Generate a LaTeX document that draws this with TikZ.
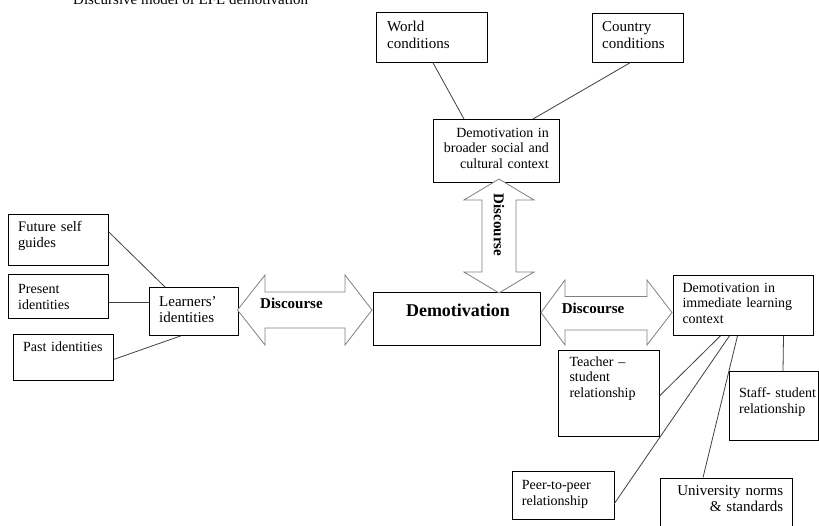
\documentclass[tikz,border=0pt]{standalone}
\usepackage{fontspec}
\setmainfont{Liberation Serif}
\begin{document}
\begin{tikzpicture}[x=1pt,y=-1pt,
  box/.style={draw=black, line width=0.8pt, inner sep=0pt, anchor=north west},
  conn/.style={draw=black!75, line width=0.8pt},
  arr/.style={draw=black!50, line width=0.8pt, fill=white, line join=miter},
  tl/.style={inner sep=0pt, anchor=base west, align=left, text width=5cm},
  tr/.style={inner sep=0pt, anchor=base east, align=right, text width=5cm},
  fa/.style={font=\fontsize{14}{15.7}\selectfont},
  fb/.style={font=\fontsize{15}{17}\selectfont},
  bd/.style={font=\fontsize{15}{17}\selectfont\bfseries}]
\useasboundingbox (0,0) rectangle (819,525);
\clip (0,0) rectangle (819,525);

% title (cut off at top, as in the reference)
\node[inner sep=0pt, anchor=base west, fb] (title) at (73,4.5) {Discursive model of EFL demotivation};

% boxes
\node[box, minimum width=111pt, minimum height=50pt] (world) at (376,12) {};
\node[box, minimum width=91pt, minimum height=49pt] (country) at (592,13) {};
\node[box, minimum width=126pt, minimum height=63pt] (broad) at (433,119) {};
\node[box, minimum width=100pt, minimum height=51pt] (future) at (8,214) {};
\node[box, minimum width=100pt, minimum height=44pt] (present) at (8,274) {};
\node[box, minimum width=100pt, minimum height=46pt] (past) at (13,334) {};
\node[box, minimum width=89pt, minimum height=48pt] (learn) at (149,287) {};
\node[box, minimum width=167pt, minimum height=53pt] (demot) at (373,292) {};
\node[box, minimum width=140pt, minimum height=60.5pt] (immed) at (672.5,274.5) {};
\node[box, minimum width=101pt, minimum height=85.5pt] (teacher) at (558,350) {};
\node[box, minimum width=89pt, minimum height=69pt] (staff) at (729,371) {};
\node[box, minimum width=102pt, minimum height=47.5pt] (peer) at (511.5,471) {};
\node[box, minimum width=132pt, minimum height=60pt] (univ) at (660,477.5) {};

% texts
\node[tl, font=\fontsize{15}{17.3}\selectfont] (tworld) at (387,31.5) {World\\conditions};
\node[tl, font=\fontsize{15}{17.3}\selectfont] (tcountry) at (602,31.5) {Country\\conditions};
\node[tr, font=\fontsize{14}{15.4}\selectfont] (tbroad) at (549,137.3) {Demotivation in\\broader social and\\cultural context};
\node[tl, font=\fontsize{14.5}{16}\selectfont] (tfuture) at (18,231.7) {Future self\\guides};
\node[tl, fa] (tpresent) at (18,293.3) {Present\\identities};
\node[tl, fa] (tpast) at (23,351.7) {Past identities};
\node[tl, font=\fontsize{15}{16.3}\selectfont] (tlearn) at (159,306) {Learners’\\identities};
\node[inner sep=0pt, anchor=base, font=\fontsize{18}{20}\selectfont\bfseries] (tdemot) at (458,316) {Demotivation};
\node[tl, font=\fontsize{14}{15.5}\selectfont] (timmed) at (682.3,292.3) {Demotivation in\\immediate learning\\context};
\node[tl, fa] (tteacher) at (569.3,366) {Teacher –\\student\\relationship};
\node[tl, font=\fontsize{14}{16}\selectfont] (tstaff) at (739,397.3) {Staff- student\\relationship};
\node[tl, font=\fontsize{14}{16}\selectfont] (tpeer) at (521.7,489) {Peer-to-peer\\relationship};
\node[tr, font=\fontsize{15}{16}\selectfont] (tuniv) at (783.3,495.7) {University norms\\\& standards};

% connectors
\draw[conn] ([xshift=57pt]world.south west) -- ([xshift=31pt]broad.north west);
\draw[conn] ([xshift=38pt]country.south west) -- ([xshift=100pt]broad.north west);
\draw[conn] ([yshift=-18pt]future.north east) -- ([xshift=16pt]learn.north west);
\draw[conn] ([yshift=-6pt]present.east) -- ([yshift=9pt]learn.west);
\draw[conn] ([yshift=-2pt]past.east) -- ([xshift=32pt]learn.south west);
\draw[conn] ([xshift=48pt]immed.south west) -- ([yshift=-2.5pt]teacher.east);
\draw[conn] ([xshift=57pt]immed.south west) -- ([yshift=-8.5pt]peer.east);
\draw[conn] ([xshift=65pt]immed.south west) -- ([xshift=43pt]univ.north west);
\draw[conn] ([xshift=111pt]immed.south west) -- ([xshift=54pt]staff.north west);

% double block arrows
\draw[arr] (237.5,310) -- (265,275) -- (265,292) -- (345,292) -- (345,275) -- (372,310)
  -- (345,345) -- (345,328) -- (265,328) -- (265,345) -- cycle;
\draw[arr] (541,312.5) -- (565,280) -- (565,296.5) -- (647,296.5) -- (647,280) -- (672,312.5)
  -- (647,345) -- (647,330) -- (565,330) -- (565,345) -- cycle;
\draw[arr] (499,179) -- (534,200) -- (516,200) -- (516,272) -- (534,272) -- (499,293)
  -- (464,272) -- (482,272) -- (482,200) -- (464,200) -- cycle;

\node[tl, bd] (dleft) at (260,308.3) {Discourse};
\node[tl, bd] (dright) at (561.7,313.3) {Discourse};
\node[inner sep=0pt, rotate=-90, bd] (dvert) at (499,225) {Discourse};
\end{tikzpicture}
\end{document}
